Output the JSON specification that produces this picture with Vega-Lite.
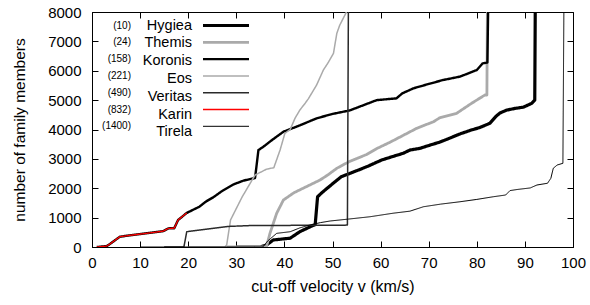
{
  "$schema": "https://vega.github.io/schema/vega-lite/v6.json",
  "width": 481,
  "height": 235,
  "autosize": {"type": "none"},
  "padding": {"left": 92, "top": 12, "right": 17, "bottom": 58},
  "background": "white",
  "config": {
    "font": "Liberation Sans",
    "view": {"stroke": "black", "strokeWidth": 1},
    "axis": {
      "grid": false,
      "domainColor": "black",
      "tickColor": "black",
      "labelColor": "black",
      "titleColor": "black",
      "labelFont": "Liberation Sans",
      "titleFont": "Liberation Sans",
      "labelFontSize": 15,
      "titleFontSize": 15.5,
      "titleFontWeight": "normal",
      "labelFlush": false,
      "labelOverlap": false,
      "tickSize": -6,
      "tickWidth": 1
    },
    "legend": {"labelFont": "Liberation Sans", "labelColor": "black", "padding": 0}
  },
  "data": {
    "values": [
      {"family": "Hygiea", "members": "(10)", "v": 30, "n": 0},
      {"family": "Hygiea", "members": "(10)", "v": 35, "n": 0},
      {"family": "Hygiea", "members": "(10)", "v": 36.3, "n": 70},
      {"family": "Hygiea", "members": "(10)", "v": 37.7, "n": 240},
      {"family": "Hygiea", "members": "(10)", "v": 41.2, "n": 300},
      {"family": "Hygiea", "members": "(10)", "v": 43.2, "n": 520},
      {"family": "Hygiea", "members": "(10)", "v": 45.7, "n": 715},
      {"family": "Hygiea", "members": "(10)", "v": 46.4, "n": 760},
      {"family": "Hygiea", "members": "(10)", "v": 46.9, "n": 1710},
      {"family": "Hygiea", "members": "(10)", "v": 47.8, "n": 1850},
      {"family": "Hygiea", "members": "(10)", "v": 50, "n": 2150},
      {"family": "Hygiea", "members": "(10)", "v": 51.8, "n": 2390},
      {"family": "Hygiea", "members": "(10)", "v": 55.7, "n": 2640},
      {"family": "Hygiea", "members": "(10)", "v": 57.5, "n": 2760},
      {"family": "Hygiea", "members": "(10)", "v": 60.2, "n": 2960},
      {"family": "Hygiea", "members": "(10)", "v": 62.5, "n": 3080},
      {"family": "Hygiea", "members": "(10)", "v": 64.7, "n": 3190},
      {"family": "Hygiea", "members": "(10)", "v": 66.1, "n": 3300},
      {"family": "Hygiea", "members": "(10)", "v": 68.2, "n": 3360},
      {"family": "Hygiea", "members": "(10)", "v": 70.3, "n": 3470},
      {"family": "Hygiea", "members": "(10)", "v": 72.3, "n": 3570},
      {"family": "Hygiea", "members": "(10)", "v": 74, "n": 3680},
      {"family": "Hygiea", "members": "(10)", "v": 76.5, "n": 3850},
      {"family": "Hygiea", "members": "(10)", "v": 79, "n": 3990},
      {"family": "Hygiea", "members": "(10)", "v": 80.5, "n": 4060},
      {"family": "Hygiea", "members": "(10)", "v": 82.7, "n": 4210},
      {"family": "Hygiea", "members": "(10)", "v": 84, "n": 4450},
      {"family": "Hygiea", "members": "(10)", "v": 84.8, "n": 4560},
      {"family": "Hygiea", "members": "(10)", "v": 86.2, "n": 4660},
      {"family": "Hygiea", "members": "(10)", "v": 88, "n": 4720},
      {"family": "Hygiea", "members": "(10)", "v": 89.7, "n": 4760},
      {"family": "Hygiea", "members": "(10)", "v": 91.4, "n": 4890},
      {"family": "Hygiea", "members": "(10)", "v": 92.05, "n": 5000},
      {"family": "Hygiea", "members": "(10)", "v": 92.15, "n": 8000},

      {"family": "Themis", "members": "(24)", "v": 28, "n": 0},
      {"family": "Themis", "members": "(24)", "v": 35.8, "n": 0},
      {"family": "Themis", "members": "(24)", "v": 36.3, "n": 30},
      {"family": "Themis", "members": "(24)", "v": 37.0, "n": 465},
      {"family": "Themis", "members": "(24)", "v": 38.4, "n": 1150},
      {"family": "Themis", "members": "(24)", "v": 39.8, "n": 1600},
      {"family": "Themis", "members": "(24)", "v": 42, "n": 1850},
      {"family": "Themis", "members": "(24)", "v": 43.9, "n": 2000},
      {"family": "Themis", "members": "(24)", "v": 47.4, "n": 2280},
      {"family": "Themis", "members": "(24)", "v": 49, "n": 2450},
      {"family": "Themis", "members": "(24)", "v": 50.9, "n": 2680},
      {"family": "Themis", "members": "(24)", "v": 53.4, "n": 2900},
      {"family": "Themis", "members": "(24)", "v": 57.1, "n": 3150},
      {"family": "Themis", "members": "(24)", "v": 59.2, "n": 3350},
      {"family": "Themis", "members": "(24)", "v": 62, "n": 3570},
      {"family": "Themis", "members": "(24)", "v": 64.7, "n": 3800},
      {"family": "Themis", "members": "(24)", "v": 67.5, "n": 4040},
      {"family": "Themis", "members": "(24)", "v": 71, "n": 4265},
      {"family": "Themis", "members": "(24)", "v": 72.3, "n": 4400},
      {"family": "Themis", "members": "(24)", "v": 75.8, "n": 4550},
      {"family": "Themis", "members": "(24)", "v": 78.9, "n": 4890},
      {"family": "Themis", "members": "(24)", "v": 81.7, "n": 5175},
      {"family": "Themis", "members": "(24)", "v": 82.1, "n": 5175},
      {"family": "Themis", "members": "(24)", "v": 82.2, "n": 8000},

      {"family": "Koronis", "members": "(158)", "v": 1, "n": 0},
      {"family": "Koronis", "members": "(158)", "v": 3.05, "n": 30},
      {"family": "Koronis", "members": "(158)", "v": 3.7, "n": 100},
      {"family": "Koronis", "members": "(158)", "v": 5.8, "n": 350},
      {"family": "Koronis", "members": "(158)", "v": 8, "n": 400},
      {"family": "Koronis", "members": "(158)", "v": 10, "n": 440},
      {"family": "Koronis", "members": "(158)", "v": 12.5, "n": 490},
      {"family": "Koronis", "members": "(158)", "v": 14.8, "n": 540},
      {"family": "Koronis", "members": "(158)", "v": 15.9, "n": 635},
      {"family": "Koronis", "members": "(158)", "v": 17.1, "n": 640},
      {"family": "Koronis", "members": "(158)", "v": 17.9, "n": 920},
      {"family": "Koronis", "members": "(158)", "v": 19.7, "n": 1160},
      {"family": "Koronis", "members": "(158)", "v": 22.3, "n": 1370},
      {"family": "Koronis", "members": "(158)", "v": 23.8, "n": 1560},
      {"family": "Koronis", "members": "(158)", "v": 25.2, "n": 1690},
      {"family": "Koronis", "members": "(158)", "v": 27, "n": 1900},
      {"family": "Koronis", "members": "(158)", "v": 29.4, "n": 2130},
      {"family": "Koronis", "members": "(158)", "v": 31.5, "n": 2260},
      {"family": "Koronis", "members": "(158)", "v": 33.9, "n": 2350},
      {"family": "Koronis", "members": "(158)", "v": 34.6, "n": 3300},
      {"family": "Koronis", "members": "(158)", "v": 35.6, "n": 3410},
      {"family": "Koronis", "members": "(158)", "v": 37.5, "n": 3650},
      {"family": "Koronis", "members": "(158)", "v": 39.8, "n": 3925},
      {"family": "Koronis", "members": "(158)", "v": 43.2, "n": 4140},
      {"family": "Koronis", "members": "(158)", "v": 46.7, "n": 4380},
      {"family": "Koronis", "members": "(158)", "v": 50, "n": 4530},
      {"family": "Koronis", "members": "(158)", "v": 53.6, "n": 4650},
      {"family": "Koronis", "members": "(158)", "v": 56, "n": 4800},
      {"family": "Koronis", "members": "(158)", "v": 59.2, "n": 5000},
      {"family": "Koronis", "members": "(158)", "v": 63.3, "n": 5060},
      {"family": "Koronis", "members": "(158)", "v": 64.5, "n": 5230},
      {"family": "Koronis", "members": "(158)", "v": 66.8, "n": 5400},
      {"family": "Koronis", "members": "(158)", "v": 70, "n": 5550},
      {"family": "Koronis", "members": "(158)", "v": 73, "n": 5685},
      {"family": "Koronis", "members": "(158)", "v": 76.5, "n": 5800},
      {"family": "Koronis", "members": "(158)", "v": 80, "n": 6025},
      {"family": "Koronis", "members": "(158)", "v": 81.2, "n": 6250},
      {"family": "Koronis", "members": "(158)", "v": 82.2, "n": 6280},
      {"family": "Koronis", "members": "(158)", "v": 82.35, "n": 8000},

      {"family": "Eos", "members": "(221)", "v": 20, "n": 0},
      {"family": "Eos", "members": "(221)", "v": 27.6, "n": 0},
      {"family": "Eos", "members": "(221)", "v": 28, "n": 70},
      {"family": "Eos", "members": "(221)", "v": 28.8, "n": 920},
      {"family": "Eos", "members": "(221)", "v": 31.2, "n": 1700},
      {"family": "Eos", "members": "(221)", "v": 33.9, "n": 2450},
      {"family": "Eos", "members": "(221)", "v": 36.3, "n": 2650},
      {"family": "Eos", "members": "(221)", "v": 37.8, "n": 2700},
      {"family": "Eos", "members": "(221)", "v": 39.1, "n": 3300},
      {"family": "Eos", "members": "(221)", "v": 40.1, "n": 3870},
      {"family": "Eos", "members": "(221)", "v": 41.2, "n": 4000},
      {"family": "Eos", "members": "(221)", "v": 42.2, "n": 4380},
      {"family": "Eos", "members": "(221)", "v": 43.2, "n": 4660},
      {"family": "Eos", "members": "(221)", "v": 44.3, "n": 4890},
      {"family": "Eos", "members": "(221)", "v": 45, "n": 5050},
      {"family": "Eos", "members": "(221)", "v": 46.7, "n": 5515},
      {"family": "Eos", "members": "(221)", "v": 48.1, "n": 6025},
      {"family": "Eos", "members": "(221)", "v": 49, "n": 6250},
      {"family": "Eos", "members": "(221)", "v": 50.2, "n": 6590},
      {"family": "Eos", "members": "(221)", "v": 50.9, "n": 7275},
      {"family": "Eos", "members": "(221)", "v": 51.5, "n": 7550},
      {"family": "Eos", "members": "(221)", "v": 52.9, "n": 8000},

      {"family": "Veritas", "members": "(490)", "v": 15, "n": 0},
      {"family": "Veritas", "members": "(490)", "v": 19.1, "n": 0},
      {"family": "Veritas", "members": "(490)", "v": 19.7, "n": 520},
      {"family": "Veritas", "members": "(490)", "v": 22, "n": 570},
      {"family": "Veritas", "members": "(490)", "v": 24.9, "n": 630},
      {"family": "Veritas", "members": "(490)", "v": 28.3, "n": 700},
      {"family": "Veritas", "members": "(490)", "v": 33, "n": 730},
      {"family": "Veritas", "members": "(490)", "v": 53.1, "n": 745},
      {"family": "Veritas", "members": "(490)", "v": 53.3, "n": 8000},

      {"family": "Karin", "members": "(832)", "v": 1, "n": 0},
      {"family": "Karin", "members": "(832)", "v": 3.05, "n": 30},
      {"family": "Karin", "members": "(832)", "v": 3.7, "n": 100},
      {"family": "Karin", "members": "(832)", "v": 5.8, "n": 350},
      {"family": "Karin", "members": "(832)", "v": 8, "n": 400},
      {"family": "Karin", "members": "(832)", "v": 10, "n": 440},
      {"family": "Karin", "members": "(832)", "v": 12.5, "n": 490},
      {"family": "Karin", "members": "(832)", "v": 14.8, "n": 540},
      {"family": "Karin", "members": "(832)", "v": 15.9, "n": 635},
      {"family": "Karin", "members": "(832)", "v": 17.1, "n": 640},
      {"family": "Karin", "members": "(832)", "v": 17.9, "n": 920},
      {"family": "Karin", "members": "(832)", "v": 19.7, "n": 1160},

      {"family": "Tirela", "members": "(1400)", "v": 10, "n": 0},
      {"family": "Tirela", "members": "(1400)", "v": 35.5, "n": 0},
      {"family": "Tirela", "members": "(1400)", "v": 36.5, "n": 200},
      {"family": "Tirela", "members": "(1400)", "v": 38.4, "n": 465},
      {"family": "Tirela", "members": "(1400)", "v": 41.2, "n": 520},
      {"family": "Tirela", "members": "(1400)", "v": 43.2, "n": 650},
      {"family": "Tirela", "members": "(1400)", "v": 45.3, "n": 750},
      {"family": "Tirela", "members": "(1400)", "v": 47.5, "n": 830},
      {"family": "Tirela", "members": "(1400)", "v": 49.5, "n": 885},
      {"family": "Tirela", "members": "(1400)", "v": 53.3, "n": 950},
      {"family": "Tirela", "members": "(1400)", "v": 57.8, "n": 1030},
      {"family": "Tirela", "members": "(1400)", "v": 62.6, "n": 1150},
      {"family": "Tirela", "members": "(1400)", "v": 66.1, "n": 1220},
      {"family": "Tirela", "members": "(1400)", "v": 68.9, "n": 1370},
      {"family": "Tirela", "members": "(1400)", "v": 72.5, "n": 1460},
      {"family": "Tirela", "members": "(1400)", "v": 76.5, "n": 1540},
      {"family": "Tirela", "members": "(1400)", "v": 80, "n": 1620},
      {"family": "Tirela", "members": "(1400)", "v": 83.4, "n": 1710},
      {"family": "Tirela", "members": "(1400)", "v": 86, "n": 1770},
      {"family": "Tirela", "members": "(1400)", "v": 86.9, "n": 1920},
      {"family": "Tirela", "members": "(1400)", "v": 88.5, "n": 1960},
      {"family": "Tirela", "members": "(1400)", "v": 91.1, "n": 2010},
      {"family": "Tirela", "members": "(1400)", "v": 92.5, "n": 2110},
      {"family": "Tirela", "members": "(1400)", "v": 94.7, "n": 2170},
      {"family": "Tirela", "members": "(1400)", "v": 95.4, "n": 2340},
      {"family": "Tirela", "members": "(1400)", "v": 95.9, "n": 2680},
      {"family": "Tirela", "members": "(1400)", "v": 96.7, "n": 2790},
      {"family": "Tirela", "members": "(1400)", "v": 97.9, "n": 2850},
      {"family": "Tirela", "members": "(1400)", "v": 98.1, "n": 8000}
    ]
  },
  "layer": [
    {
      "mark": {"type": "line", "strokeJoin": "round", "strokeCap": "butt", "clip": true},
      "encoding": {
        "x": {
          "field": "v", "type": "quantitative",
          "scale": {"domain": [0, 100], "nice": false, "zero": false},
          "axis": {
            "orient": "bottom",
            "values": [0, 10, 20, 30, 40, 50, 60, 70, 80, 90, 100],
            "format": "d",
            "title": "cut-off velocity v (km/s)",
            "titleFontSize": 16,
            "labelPadding": 14,
            "titlePadding": 8
          }
        },
        "y": {
          "field": "n", "type": "quantitative",
          "scale": {"domain": [0, 8000], "nice": false},
          "axis": {
            "orient": "left",
            "values": [0, 1000, 2000, 3000, 4000, 5000, 6000, 7000, 8000],
            "format": "d",
            "title": "number of family members",
            "labelPadding": 17,
            "titlePadding": 20
          }
        },
        "color": {
          "field": "family", "type": "nominal",
          "scale": {
            "domain": ["Hygiea", "Themis", "Koronis", "Eos", "Veritas", "Karin", "Tirela"],
            "range": ["#000000", "#aaaaaa", "#000000", "#aaaaaa", "#2a2a2a", "#ff0000", "#000000"]
          },
          "legend": {
            "title": null, "orient": "none", "legendX": 109, "legendY": 6,
            "symbolType": "stroke", "symbolSize": 2116, "labelExpr": "''",
            "clipHeight": 15, "rowPadding": 1.8
          }
        },
        "strokeWidth": {
          "field": "family", "type": "nominal",
          "scale": {
            "type": "ordinal",
            "domain": ["Hygiea", "Themis", "Koronis", "Eos", "Veritas", "Karin", "Tirela"],
            "range": [3.2, 2.8, 2.4, 1.5, 1.5, 1.3, 1]
          },
          "legend": {
            "title": null, "orient": "none", "legendX": 109, "legendY": 6,
            "symbolType": "stroke", "symbolSize": 2116, "labelExpr": "''",
            "clipHeight": 15, "rowPadding": 1.8
          }
        },
        "opacity": {
          "field": "family", "type": "nominal",
          "sort": ["Hygiea", "Themis", "Koronis", "Eos", "Veritas", "Karin", "Tirela"],
          "scale": {"type": "ordinal", "range": [1, 1, 1, 1, 1, 1, 1]},
          "legend": {
            "title": null, "orient": "none", "legendX": 20, "legendY": 6,
            "symbolOpacity": 0, "symbolSize": 0, "symbolStrokeWidth": 0,
            "labelAlign": "right", "labelOffset": 65.5,
            "clipHeight": 15, "rowPadding": 1.8, "labelFontSize": 14.5
          }
        },
        "strokeDash": {
          "field": "members", "type": "nominal",
          "scale": {
            "domain": ["(10)", "(24)", "(158)", "(221)", "(490)", "(832)", "(1400)"],
            "range": [[1, 0], [1, 0], [1, 0], [1, 0], [1, 0], [1, 0], [1, 0]]
          },
          "legend": {
            "title": null, "orient": "none", "legendX": 0, "legendY": 6,
            "symbolOpacity": 0, "symbolSize": 0, "symbolStrokeWidth": 0,
            "labelAlign": "right", "labelOffset": 29,
            "clipHeight": 15, "rowPadding": 1.8, "labelFontSize": 10
          }
        }
      }
    },
    {
      "mark": {"type": "point", "opacity": 0},
      "encoding": {
        "x": {
          "field": "v", "type": "quantitative",
          "scale": {"domain": [0, 100], "nice": false, "zero": false},
          "axis": {
            "orient": "top", "values": [0, 10, 20, 30, 40, 50, 60, 70, 80, 90, 100],
            "labels": false, "title": null, "domain": false
          }
        },
        "y": {
          "field": "n", "type": "quantitative",
          "scale": {"domain": [0, 8000], "nice": false},
          "axis": {
            "orient": "right", "values": [0, 1000, 2000, 3000, 4000, 5000, 6000, 7000, 8000],
            "labels": false, "title": null, "domain": false
          }
        }
      }
    }
  ],
  "resolve": {"axis": {"x": "independent", "y": "independent"}}
}
